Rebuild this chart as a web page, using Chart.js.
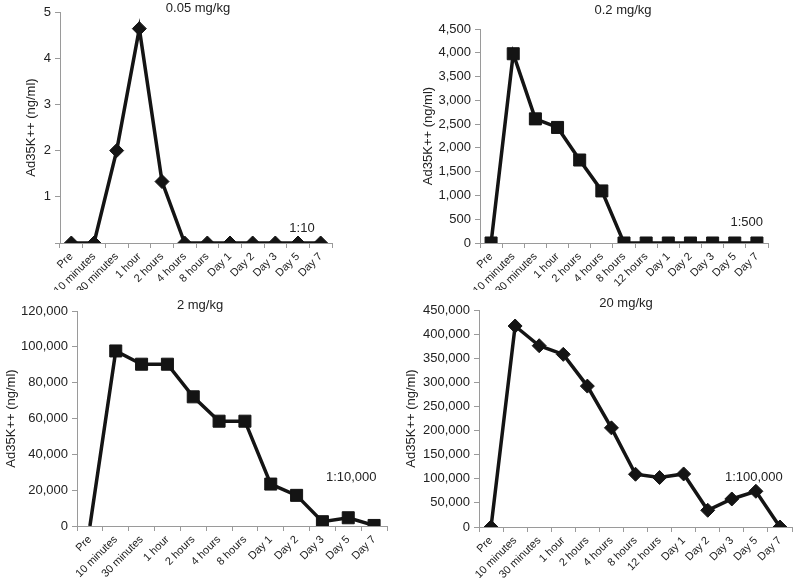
<!DOCTYPE html>
<html>
<head>
<meta charset="utf-8">
<script src="https://cdn.jsdelivr.net/npm/chart.js@4"></script>
<style>
  body { margin: 0; background: #fff; }
  #wrap { position: relative; width: 800px; height: 578px; overflow: hidden; }
  .panel { position: absolute; }
</style>
</head>
<body>
<div id="wrap">
  <div class="panel" style="left:0;top:0"><canvas id="c1" width="400" height="290"></canvas></div>
  <div class="panel" style="left:400px;top:0"><canvas id="c2" width="400" height="290"></canvas></div>
  <div class="panel" style="left:0;top:290px"><canvas id="c3" width="400" height="288"></canvas></div>
  <div class="panel" style="left:400px;top:290px"><canvas id="c4" width="400" height="288"></canvas></div>
</div>
<script>
var timesShort = ['Pre', '10 minutes', '30 minutes', '1 hour', '2 hours', '4 hours', '8 hours',
    'Day 1', 'Day 2', 'Day 3', 'Day 5', 'Day 7'];
var timesLong = ['Pre', '10 minutes', '30 minutes', '1 hour', '2 hours', '4 hours', '8 hours',
    '12 hours', 'Day 1', 'Day 2', 'Day 3', 'Day 5', 'Day 7'];

var dose005 = [0, 0, 2.0, 4.64, 1.33, 0, 0, 0, 0, 0, 0, 0];
var dose02 = [0, 3980, 2610, 2430, 1745, 1095, 0, 0, 0, 0, 0, 0, 0];
var dose2 = [0, 97700, 90300, 90300, 72100, 58500, 58500, 23400, 17100, 2400, 4600, 300];
var dose20 = [0, 416800, 375900, 358000, 292200, 205600, 109400, 102600, 110000, 34700, 58100, 74100, 0];

var yLabel = 'Ad35K++ (ng/ml)';
var ink = '#141414';
var axisGrey = '#9a9a9a';

Chart.defaults.font.family = '"Liberation Sans", Arial, sans-serif';
Chart.defaults.color = '#222';

// titles and dilution notes are drawn straight on the canvas
var panelText = {
    id: 'panelText',
    afterDraw: function(chart) {
        var o = chart.options.plugins.panelText;
        var ctx = chart.ctx;
        ctx.save();
        ctx.fillStyle = '#222';
        ctx.textAlign = 'center';
        ctx.textBaseline = 'middle';
        ctx.font = '13px "Liberation Sans", Arial, sans-serif';
        ctx.fillText(o.title, o.titleX, o.titleY);
        var x = chart.scales.x.getPixelForValue(o.noteIndex) + o.noteDx;
        var y = chart.chartArea.bottom - o.noteUp;
        ctx.fillText(o.note, x, y);
        ctx.restore();
    }
};

function buildPanel(id, labels, values, p) {
    var el = document.getElementById(id);
    return new Chart(el.getContext('2d'), {
        type: 'line',
        data: {
            labels: labels,
            datasets: [{
                data: values,
                borderColor: ink,
                borderWidth: 3.5,
                backgroundColor: ink,
                pointBackgroundColor: ink,
                pointBorderColor: ink,
                pointBorderWidth: 1,
                pointStyle: p.marker,
                pointRadius: function(c) {
                    return (p.hideFirst && c.dataIndex === 0) ? 0 : p.radius;
                },
                tension: 0
            }]
        },
        options: {
            responsive: false,
            animation: false,
            layout: { padding: { top: p.top, right: p.right, bottom: 0, left: 0 } },
            plugins: {
                legend: { display: false },
                tooltip: { enabled: false },
                panelText: p.text
            },
            scales: {
                x: {
                    offset: true,
                    grid: { offset: true, drawOnChartArea: false, tickLength: 5, color: axisGrey },
                    border: { color: axisGrey },
                    ticks: { autoSkip: false, minRotation: 45, maxRotation: 45, padding: 2,
                        font: { size: 11 } },
                    afterFit: function(s) { s.height = p.xh; }
                },
                y: {
                    min: 0,
                    max: p.max,
                    grid: { drawOnChartArea: false, tickLength: 5, color: axisGrey },
                    border: { color: axisGrey },
                    ticks: {
                        stepSize: p.step,
                        padding: 4,
                        font: { size: 13 },
                        callback: function(v) {
                            if (p.hideZero && v === 0) return '';
                            return v.toLocaleString('en-US');
                        }
                    },
                    title: { display: true, text: yLabel, font: { size: 13 },
                        padding: { top: p.titlePad, bottom: 0 } },
                    afterFit: function(s) { s.width = p.yw; }
                }
            }
        },
        plugins: [panelText]
    });
}

document.addEventListener('DOMContentLoaded', function() {
    buildPanel('c1', timesShort, dose005, {
        marker: 'rectRot', radius: 7, max: 5, step: 1, hideZero: true,
        top: 12, right: 68, xh: 47, yw: 60, titlePad: 24,
        text: { title: '0.05 mg/kg', titleX: 198, titleY: 8, note: '1:10', noteIndex: 10, noteDx: 4, noteUp: 15 }
    });
    buildPanel('c2', timesLong, dose02, {
        marker: 'rect', radius: 8.5, max: 4500, step: 500,
        top: 29, right: 32, xh: 47, yw: 80, titlePad: 21,
        text: { title: '0.2 mg/kg', titleX: 223, titleY: 10, note: '1:500', noteIndex: 11, noteDx: 12, noteUp: 21 }
    });
    buildPanel('c3', timesShort, dose2, {
        marker: 'rect', radius: 8.5, max: 120000, step: 20000, hideFirst: true,
        top: 21, right: 13, xh: 52, yw: 77, titlePad: 4,
        text: { title: '2 mg/kg', titleX: 200, titleY: 15, note: '1:10,000', noteIndex: 10, noteDx: 3, noteUp: 49 }
    });
    buildPanel('c4', timesLong, dose20, {
        marker: 'rectRot', radius: 7, max: 450000, step: 50000,
        top: 20, right: 3, xh: 51, yw: 79, titlePad: 4,
        text: { title: '20 mg/kg', titleX: 226, titleY: 13, note: '1:100,000', noteIndex: 11, noteDx: -2, noteUp: 50 }
    });
});
</script>
</body>
</html>
